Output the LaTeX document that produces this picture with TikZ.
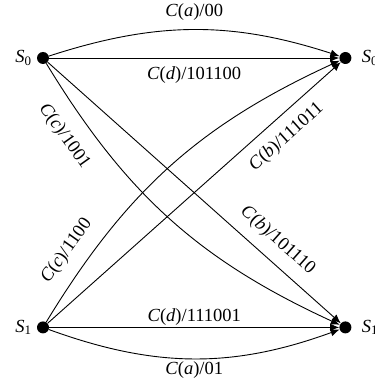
\documentclass[tikz,border=0pt]{standalone}
\usepackage{fontspec}
\setmainfont{Liberation Serif}
\usetikzlibrary{arrows.meta,positioning}
\tikzset{
  state/.style={circle, fill, inner sep=0pt, minimum size=12pt},
  trans/.style={-{Latex[length=9pt,width=7.5pt]}, line width=0.9pt},
  lab/.style={font=\fontsize{18.5}{20}\selectfont, inner sep=1pt},
  statelab/.style={font=\fontsize{18.5}{20}\selectfont, inner sep=0pt}
}
\newcommand{\trlabel}[2]{\textit{C}(\textit{#1})/#2}
\newcommand{\stlabel}[1]{\textit{S}\textsubscript{#1}}

\begin{document}
\begin{tikzpicture}[x=1pt, y=1pt]
  \useasboundingbox (0,0) rectangle (375,389);
  % states
  \node[state] (s0l) at (43,331) {};
  \node[state, right=290pt of s0l] (s0r) {};
  \node[state, below=257pt of s0l] (s1l) {};
  \node[state, right=290pt of s1l] (s1r) {};
  \node[statelab, left=5pt of s0l] (n0l) {\stlabel{0}};
  \node[statelab, right=10pt of s0r] (n0r) {\stlabel{0}};
  \node[statelab, left=5pt of s1l] (n1l) {\stlabel{1}};
  \node[statelab, right=10pt of s1r] (n1r) {\stlabel{1}};
  % transitions
  \draw[trans] (s0l) to[bend left=18] node[lab, midway, above=8pt] {\trlabel{a}{00}} (s0r);
  \draw[trans] (s0l) -- node[lab, below=7pt] {\trlabel{d}{101100}} (s0r);
  \draw[trans] (s0l) to[bend right=17] node[lab, pos=0.16, sloped, below=15pt] {\trlabel{c}{1001}} (s1r);
  \draw[trans] (s0l) -- node[lab, pos=0.74, sloped, above=10pt] {\trlabel{b}{101110}} (s1r);
  \draw[trans] (s1l) to[bend left=17] node[lab, pos=0.16, sloped, above=12pt] {\trlabel{c}{1100}} (s0r);
  \draw[trans] (s1l) -- node[lab, pos=0.77, sloped, below=10pt] {\trlabel{b}{111011}} (s0r);
  \draw[trans] (s1l) -- node[lab, above=1pt] {\trlabel{d}{111001}} (s1r);
  \draw[trans] (s1l) to[bend right=20] node[lab, midway, below=2pt] {\trlabel{a}{01}} (s1r);
\end{tikzpicture}
\end{document}
